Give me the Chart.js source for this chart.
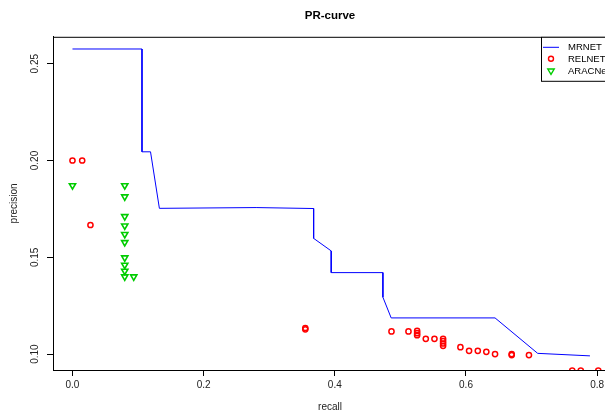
<!DOCTYPE html>
<html>
<head>
<meta charset="utf-8">
<script src="https://cdn.jsdelivr.net/npm/chart.js@4"></script>
<style>
  html, body { margin: 0; padding: 0; overflow: hidden; background: #fff; }
  #wrap { width: 620px; height: 416px; }
</style>
</head>
<body>
<div id="wrap"><canvas id="prChart" width="620" height="416"></canvas></div>
<script>
// PR-curve data
const mrnetRecall = [0, 0.106, 0.106, 0.119, 0.1325, 0.28, 0.3677, 0.3677, 0.3945, 0.3945, 0.4733, 0.4733, 0.4859, 0.6443, 0.7093, 0.789];
const mrnetPrecision = [0.2576, 0.2576, 0.2045, 0.2045, 0.1753, 0.1757, 0.1752, 0.1598, 0.1533, 0.1421, 0.1421, 0.1294, 0.1187, 0.1187, 0.1004, 0.0991];

const relnetRecall = [0, 0.0148, 0.0274, 0.355, 0.355, 0.4864, 0.5123, 0.5255, 0.5255, 0.5255, 0.5387, 0.5519, 0.5651, 0.5651, 0.5651, 0.5651, 0.5915, 0.6047, 0.618, 0.631, 0.6443, 0.6697, 0.6697, 0.696, 0.762, 0.775, 0.8017];
const relnetPrecision = [0.2, 0.2, 0.1667, 0.1135, 0.1128, 0.1117, 0.1117, 0.112, 0.1108, 0.1098, 0.1079, 0.1079, 0.1079, 0.1067, 0.1055, 0.1043, 0.1036, 0.1017, 0.1017, 0.1012, 0.1, 0.1, 0.0995, 0.0995, 0.0915, 0.0915, 0.0915];

const aracneRecall = [0, 0.0797, 0.0797, 0.0797, 0.0797, 0.0797, 0.0797, 0.0797, 0.0797, 0.0797, 0.0797, 0.0934];
const aracnePrecision = [0.1871, 0.1871, 0.1813, 0.1711, 0.1663, 0.1619, 0.1577, 0.1498, 0.146, 0.1429, 0.14, 0.14];

const seriesNames = ["MRNET", "RELNET", "ARACNe"];
const xTicks = [0, 0.2, 0.4, 0.6, 0.8];
const yTicks = [0.10, 0.15, 0.20, 0.25];

const toPoints = (xs, ys) => xs.map((x, i) => ({ x: x, y: ys[i] }));

const FONT = "'Liberation Sans', Arial, Helvetica, sans-serif";
Chart.defaults.font.family = FONT;
Chart.defaults.color = "#000";

// box round the plot + legend in the top-right corner (R style)
const rBox = {
  id: "rBox",
  afterDraw(chart) {
    const { ctx, chartArea: a } = chart;
    ctx.save();
    ctx.strokeStyle = "#000";
    ctx.lineWidth = 1;
    ctx.strokeRect(a.left + 0.5, a.top + 0.5, a.right - a.left, a.bottom - a.top);

    // legend
    const lx = 541, ly = a.top, lw = a.right - 541, lh = 44;
    ctx.fillStyle = "#fff";
    ctx.fillRect(lx, ly, lw, lh);
    ctx.strokeRect(lx + 0.5, ly + 0.5, lw, lh);
    ctx.font = "9.5px " + FONT;
    ctx.textBaseline = "middle";
    ctx.textAlign = "left";
    const ds = chart.data.datasets;
    const rows = [ly + 10, ly + 22, ly + 34];
    // line
    ctx.strokeStyle = ds[0].borderColor;
    ctx.beginPath();
    ctx.moveTo(543, rows[0] + 0.5);
    ctx.lineTo(559, rows[0] + 0.5);
    ctx.stroke();
    // circle
    ctx.strokeStyle = ds[1].borderColor;
    ctx.lineWidth = 1.4;
    ctx.beginPath();
    ctx.arc(551, rows[1], 2.5, 0, Math.PI * 2);
    ctx.stroke();
    // triangle pointing down
    ctx.strokeStyle = ds[2].borderColor;
    ctx.beginPath();
    ctx.moveTo(551 - 3.2, rows[2] - 1.8);
    ctx.lineTo(551 + 3.2, rows[2] - 1.8);
    ctx.lineTo(551, rows[2] + 3.5);
    ctx.closePath();
    ctx.stroke();
    ctx.fillStyle = "#000";
    seriesNames.forEach((n, i) => ctx.fillText(n, 568, rows[i] + 0.5));
    ctx.restore();
  },
};

new Chart(document.getElementById("prChart").getContext("2d"), {
  type: "scatter",
  data: {
    datasets: [
      {
        label: seriesNames[0],
        data: toPoints(mrnetRecall, mrnetPrecision),
        showLine: true,
        borderColor: "#0000ff",
        borderWidth: 1,
        pointRadius: 0,
        tension: 0,
        clip: 0,
      },
      {
        label: seriesNames[1],
        data: toPoints(relnetRecall, relnetPrecision),
        borderColor: "#ff0000",
        backgroundColor: "rgba(0,0,0,0)",
        pointStyle: "circle",
        pointRadius: 2.6,
        pointBorderWidth: 1.5,
        clip: 0,
      },
      {
        label: seriesNames[2],
        data: toPoints(aracneRecall, aracnePrecision),
        borderColor: "#00cd00",
        backgroundColor: "rgba(0,0,0,0)",
        pointStyle: "triangle",
        rotation: 180,
        pointRadius: 3.6,
        pointBorderWidth: 1.6,
        clip: 0,
      },
    ],
  },
  options: {
    responsive: false,
    animation: false,
    devicePixelRatio: 1,
    layout: { padding: { left: 0, right: 13, top: 0, bottom: 0 } },
    plugins: {
      legend: { display: false },
      tooltip: { enabled: false },
      title: {
        display: true,
        text: "PR-curve",
        fullSize: false,
        font: { size: 11.5, weight: "bold" },
        padding: { top: 9, bottom: 14 },
      },
    },
    scales: {
      x: {
        type: "linear",
        min: -0.0297,
        max: 0.815,
        afterBuildTicks: (s) => { s.ticks = xTicks.map((v) => ({ value: v })); },
        afterFit: (s) => { s.height = 46; },
        ticks: {
          autoSkip: false,
          maxRotation: 0,
          padding: 3,
          font: { size: 10 },
          color: "#222",
          callback: (v) => v.toFixed(1),
        },
        grid: { drawOnChartArea: false, drawTicks: true, tickLength: 6, tickColor: "#000" },
        border: { display: true, color: "#000" },
        title: { display: true, text: "recall", font: { size: 10 }, color: "#222", padding: { top: 0, bottom: 3 } },
      },
      y: {
        type: "linear",
        min: 0.0918,
        max: 0.2639,
        afterBuildTicks: (s) => { s.ticks = yTicks.map((v) => ({ value: v })); },
        afterFit: (s) => { s.width = 53; },
        ticks: {
          autoSkip: false,
          minRotation: 90,
          maxRotation: 90,
          crossAlign: "center",
          padding: 2,
          font: { size: 10 },
          color: "#222",
          callback: (v) => v.toFixed(2),
        },
        grid: { drawOnChartArea: false, drawTicks: true, tickLength: 6, tickColor: "#000" },
        border: { display: true, color: "#000" },
        title: { display: true, text: "precision", font: { size: 10 }, color: "#222", padding: { top: 8, bottom: 0 } },
      },
    },
  },
  plugins: [rBox],
});
</script>
</body>
</html>
